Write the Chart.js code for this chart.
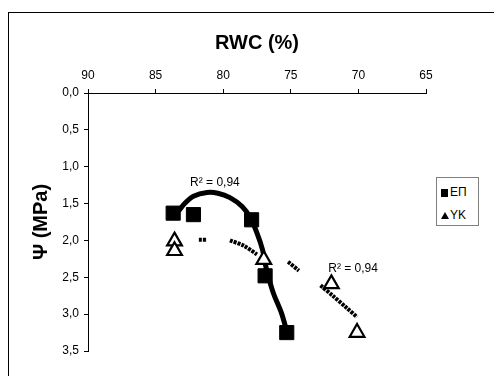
<!DOCTYPE html>
<html>
<head>
<meta charset="utf-8">
<script src="https://cdn.jsdelivr.net/npm/chart.js@4.4.1/dist/chart.umd.min.js"></script>
<style>
    body { margin: 0; background: #fff; }
    .wrap { position: relative; width: 494px; height: 376px; overflow: hidden; background: #fff; }
    .frame { position: absolute; left: 8px; top: 12px; width: 600px; height: 500px;
             border-left: 1px solid #000; border-top: 1px solid #000; }
    canvas { position: absolute; left: 0; top: 0; }
    .legend { position: absolute; left: 436px; top: 177px; width: 41px; height: 47px;
              border: 1px solid #808080; background: #fff;
              font-family: 'Liberation Sans', Arial, sans-serif; font-size: 12px; color: #000; }
    .legend .row { position: absolute; left: 4px; height: 14px; line-height: 14px; white-space: nowrap; }
    .legend .sq { display: inline-block; width: 7px; height: 8px; background: #000; margin-right: 2px; vertical-align: -1px; }
    .legend .tri { display: inline-block; width: 0; height: 0; border-left: 4px solid transparent;
                   border-right: 4px solid transparent; border-bottom: 7px solid #000; margin-right: 1px; vertical-align: 0px; }
</style>
</head>
<body>
<div class="wrap">
    <div class="frame"></div>
    <canvas id="psiChart" width="494" height="376"></canvas>
    <div class="legend">
        <div class="row" style="top:7px"><span class="sq"></span>ΕΠ</div>
        <div class="row" style="top:30px"><span class="tri"></span>ΥΚ</div>
    </div>
</div>
<script>
// measured points (RWC %, Psi MPa)
const epRwc = [83.7, 82.2, 77.9, 76.9, 75.3];
const epPsi = [1.63, 1.65, 1.72, 2.48, 3.25];
const ykRwc = [83.6, 83.6, 77.0, 72.0, 70.1];
const ykPsi = [2.01, 2.14, 2.26, 2.59, 3.25];

// trend lines (null = gap in the dashed line)
const epTrendRwc = [83.3, 82.8, 82.2, 81.2, 80.4, 79.5, 78.6, 78.0, 77.5, 77.1, 76.8, 76.3, 75.7, 75.3];
const epTrendPsi = [1.60, 1.49, 1.40, 1.35, 1.36, 1.42, 1.54, 1.69, 1.90, 2.12, 2.39, 2.71, 2.98, 3.23];
const ykTrendRwc = [81.8, 81.2, 80.4, 79.5, 78.5, 77.5, 76.4, 75.2, 74.4, 73.6, 72.8, 71.9, 70.9, 70.1];
const ykTrendPsi = [1.99, 1.99, null, 2.00, 2.07, 2.19, null, 2.29, 2.41, null, 2.61, 2.75, 2.91, 3.04];

// axis ticks
const rwcTicks = [90, 85, 80, 75, 70, 65];
const psiTicks = [0, 0.5, 1, 1.5, 2, 2.5, 3, 3.5];

// R² labels
const r2Labels = ['R² = 0,94', 'R² = 0,94'];
const r2Rwc = [82.45, 72.23];
const r2Psi = [1.21, 2.39];

function toPoints(xs, ys) {
    return xs.map((x, i) => ({ x: x, y: ys[i] }));
}

// draw R² texts at data coordinates
const r2Plugin = {
    id: 'r2Labels',
    afterDatasetsDraw(chart) {
        const ctx = chart.ctx;
        const xs = chart.scales.x;
        const ys = chart.scales.y;
        ctx.save();
        ctx.font = '12px "Liberation Sans", Arial, sans-serif';
        ctx.fillStyle = '#000';
        ctx.textAlign = 'left';
        ctx.textBaseline = 'middle';
        r2Labels.forEach((t, i) => {
            ctx.fillText(t, xs.getPixelForValue(r2Rwc[i]), ys.getPixelForValue(r2Psi[i]));
        });
        ctx.restore();
    }
};

Chart.defaults.font.family = '"Liberation Sans", Arial, sans-serif';
Chart.defaults.color = '#000';

const ctx = document.getElementById('psiChart').getContext('2d');
new Chart(ctx, {
    type: 'scatter',
    data: {
        datasets: [
            {
                label: 'ΕΠ',
                data: toPoints(epRwc, epPsi),
                pointStyle: 'rect',
                pointRadius: 10,
                backgroundColor: '#000',
                borderColor: '#000',
                borderWidth: 1
            },
            {
                label: 'ΥΚ',
                data: toPoints(ykRwc, ykPsi),
                pointStyle: 'triangle',
                pointRadius: 8.5,
                backgroundColor: '#fff',
                borderColor: '#000',
                borderWidth: 2.2
            },
            {
                label: 'ΕΠ trend',
                data: toPoints(epTrendRwc, epTrendPsi),
                showLine: true,
                pointRadius: 0,
                borderColor: '#000',
                borderWidth: 5,
                tension: 0.3
            },
            {
                label: 'ΥΚ trend',
                data: toPoints(ykTrendRwc, ykTrendPsi),
                showLine: true,
                spanGaps: false,
                pointRadius: 0,
                borderColor: '#000',
                borderWidth: 4,
                borderDash: [3, 1],
                tension: 0.3
            }
        ]
    },
    options: {
        responsive: false,
        devicePixelRatio: 1,
        animation: false,
        layout: { padding: { left: 0, top: 0, right: 68, bottom: 25 } },
        plugins: {
            legend: { display: false },
            tooltip: { enabled: false }
        },
        scales: {
            x: {
                type: 'linear',
                position: 'top',
                reverse: true,
                min: 65,
                max: 90,
                afterBuildTicks: function(scale) {
                    scale.ticks = rwcTicks.map(v => ({ value: v }));
                },
                afterFit: function(scale) { scale.height = 93; },
                ticks: {
                    font: { size: 12 },
                    padding: 6,
                    callback: v => String(v)
                },
                grid: { drawOnChartArea: false, tickLength: 4, color: '#000' },
                border: { color: '#000' },
                title: {
                    display: true,
                    text: 'RWC (%)',
                    font: { size: 20, weight: 'bold' },
                    padding: { top: 31, bottom: 0 }
                }
            },
            y: {
                type: 'linear',
                reverse: true,
                min: 0,
                max: 3.5,
                afterBuildTicks: function(scale) {
                    scale.ticks = psiTicks.map(v => ({ value: v }));
                },
                afterFit: function(scale) { scale.width = 88; },
                ticks: {
                    font: { size: 12 },
                    padding: 5,
                    callback: v => v.toFixed(1).replace('.', ',')
                },
                grid: { drawOnChartArea: false, tickLength: 4, color: '#000' },
                border: { color: '#000' },
                title: {
                    display: true,
                    text: 'Ψ (MPa)',
                    font: { size: 20, weight: 'bold' },
                    padding: { top: 29, bottom: 0 }
                }
            }
        }
    },
    plugins: [r2Plugin]
});
</script>
</body>
</html>
